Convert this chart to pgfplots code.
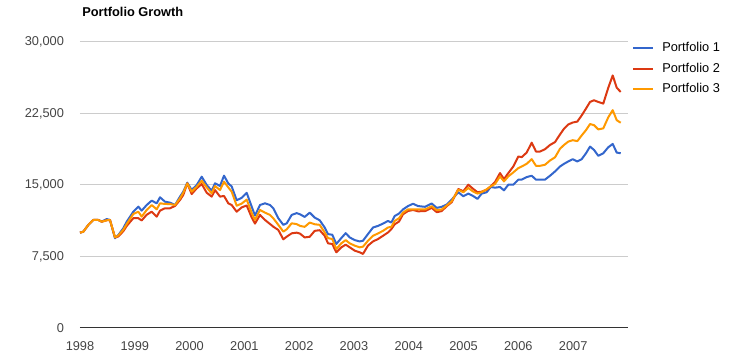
\documentclass[border=0pt]{standalone}
\usepackage{pgfplots}
\pgfplotsset{compat=1.18}
\usepackage{pgfplotstable}
\usepackage{fontspec}
\setmainfont{Liberation Sans}
\definecolor{pblue}{HTML}{3366CC}
\definecolor{pred}{HTML}{DC3912}
\definecolor{porange}{HTML}{FF9900}
\definecolor{gridc}{HTML}{CCCCCC}
\definecolor{ticktxt}{HTML}{444444}
\definecolor{axisc}{HTML}{333333}
\newcommand\chartfont{\fontsize{9.6pt}{11.5pt}\selectfont}

\pgfplotstableread{
x p1 p2 p3
1998.000 10000 10000 10000
1998.060 10100 10100 10100
1998.151 10800 10800 10800
1998.243 11330 11330 11330
1998.334 11330 11330 11330
1998.396 11150 11150 11150
1998.487 11430 11300 11300
1998.547 11330 11330 11330
1998.639 9410 9500 9500
1998.699 9750 9600 9700
1998.790 10460 10150 10300
1998.852 11150 10700 10900
1998.973 12200 11520 11960
1999.064 12730 11520 12200
1999.126 12310 11280 11680
1999.217 12900 11880 12380
1999.308 13360 12200 12900
1999.400 13080 11680 12450
1999.460 13710 12310 13080
1999.551 13250 12560 13010
1999.642 13150 12560 13000
1999.734 12900 12800 12900
1999.825 13780 13430 13600
1999.885 14300 13960 14190
1999.958 15240 15170 15170
2000.038 14480 14050 14300
2000.130 15000 14650 14820
2000.221 15870 15100 15450
2000.312 15000 14190 14750
2000.403 14400 13780 14120
2000.464 15180 14470 14890
2000.555 14900 13780 14470
2000.628 15980 13850 15350
2000.706 15160 13080 14750
2000.768 14850 12900 14300
2000.859 13400 12200 12830
2000.951 13650 12650 13050
2001.042 14180 12850 13470
2001.133 12730 11600 12070
2001.193 11800 10950 11330
2001.285 12900 11860 12380
2001.376 13080 11330 12100
2001.467 12900 10910 11860
2001.527 12560 10630 11510
2001.619 11510 10280 10820
2001.710 10820 9300 10110
2001.772 10980 9580 10350
2001.863 11860 9930 10980
2001.954 12050 10000 10900
2002.015 11930 9900 10710
2002.100 11650 9500 10610
2002.192 12100 9570 11060
2002.283 11580 10190 10880
2002.374 11300 10260 10820
2002.465 10540 9670 10020
2002.526 9850 8880 9430
2002.604 9780 8810 9330
2002.677 8810 7940 8290
2002.768 9430 8460 8880
2002.849 9950 8740 9220
2002.922 9500 8460 8880
2003.013 9220 8110 8640
2003.104 9080 7940 8460
2003.164 9150 7770 8530
2003.255 9850 8640 9150
2003.347 10540 9080 9670
2003.438 10710 9330 9920
2003.529 10950 9670 10190
2003.620 11230 10020 10540
2003.681 11060 10370 10610
2003.743 11750 10880 11230
2003.821 12000 11160 11510
2003.894 12440 11930 12100
2003.985 12790 12270 12440
2004.077 13030 12380 12450
2004.168 12790 12240 12450
2004.296 12710 12260 12430
2004.418 13060 12600 12780
2004.509 12600 12150 12360
2004.600 12710 12260 12430
2004.692 12950 12780 12850
2004.783 13470 13190 13300
2004.903 14240 14580 14510
2004.995 13820 14340 14240
2005.086 14100 15030 14690
2005.177 13830 14580 14300
2005.254 13540 14240 14100
2005.330 14100 14300 14250
2005.421 14240 14500 14550
2005.495 14790 14860 14850
2005.573 14720 15300 15100
2005.664 14790 16250 15900
2005.737 14440 15620 15380
2005.816 15030 16250 15900
2005.907 15030 16940 16320
2005.998 15560 17990 16770
2006.060 15560 17920 16940
2006.151 15830 18400 17220
2006.243 15970 19440 17710
2006.321 15560 18510 17010
2006.394 15560 18510 17010
2006.485 15560 18750 17120
2006.577 15970 19200 17570
2006.668 16420 19500 17900
2006.759 16940 20300 18800
2006.832 17220 20900 19200
2006.910 17470 21350 19550
2006.990 17710 21550 19700
2007.075 17470 21650 19600
2007.155 17710 22300 20200
2007.234 18330 23020 20760
2007.307 19030 23710 21390
2007.380 18680 23890 21280
2007.458 18060 23710 20830
2007.549 18330 23540 20940
2007.640 18960 25200 22100
2007.721 19310 26490 22850
2007.794 18400 25210 21800
2007.867 18330 24760 21530
}\portfolio

\begin{document}
\begin{tikzpicture}
\useasboundingbox (-60pt,-23.25pt) rectangle (492pt,246pt);
\begin{axis}[
  at={(0pt,0pt)}, anchor=south west,
  scale only axis, width=411pt, height=214.5pt,
  xmin=1998, xmax=2008, ymin=0, ymax=30000,
  xtick={1998,1999,...,2007},
  ytick={0,7500,15000,22500,30000},
  /pgf/number format/assume math mode=true,
  xticklabel style={/pgf/number format/1000 sep={}, font=\chartfont, text=ticktxt, yshift=-6.5pt},
  yticklabel style={/pgf/number format/1000 sep={,}, font=\chartfont, text=ticktxt, xshift=-8.5pt},
  scaled y ticks=false,
  major tick length=0pt,
  tick style={draw=none},
  axis line style={draw=none},
  ymajorgrids, grid style={gridc, line width=0.75pt},
  extra y ticks={0}, extra y tick labels={},
  extra y tick style={grid style={axisc, line width=0.75pt}},
  clip=false,
  legend cell align=left,
  legend style={draw=none, fill=none, at={(1.0073,1.008)}, anchor=north west,
    font=\chartfont, inner sep=0pt, row sep=2.85pt,
    /tikz/every odd column/.append style={column sep=4pt}},
  legend image code/.code={\draw[#1, line width=1.5pt] (0pt,0pt) -- (15pt,0pt);},
]
\addplot[pblue, line width=1.5pt, line join=round] table[x=x, y=p1] {\portfolio};
\addlegendentry{Portfolio 1}
\addplot[pred, line width=1.5pt, line join=round] table[x=x, y=p2] {\portfolio};
\addlegendentry{Portfolio 2}
\addplot[porange, line width=1.5pt, line join=round] table[x=x, y=p3] {\portfolio};
\addlegendentry{Portfolio 3}
\end{axis}
\node[anchor=west, inner sep=0pt, font=\chartfont\bfseries] at (1.5pt,237pt) {Portfolio Growth};
\end{tikzpicture}
\end{document}
